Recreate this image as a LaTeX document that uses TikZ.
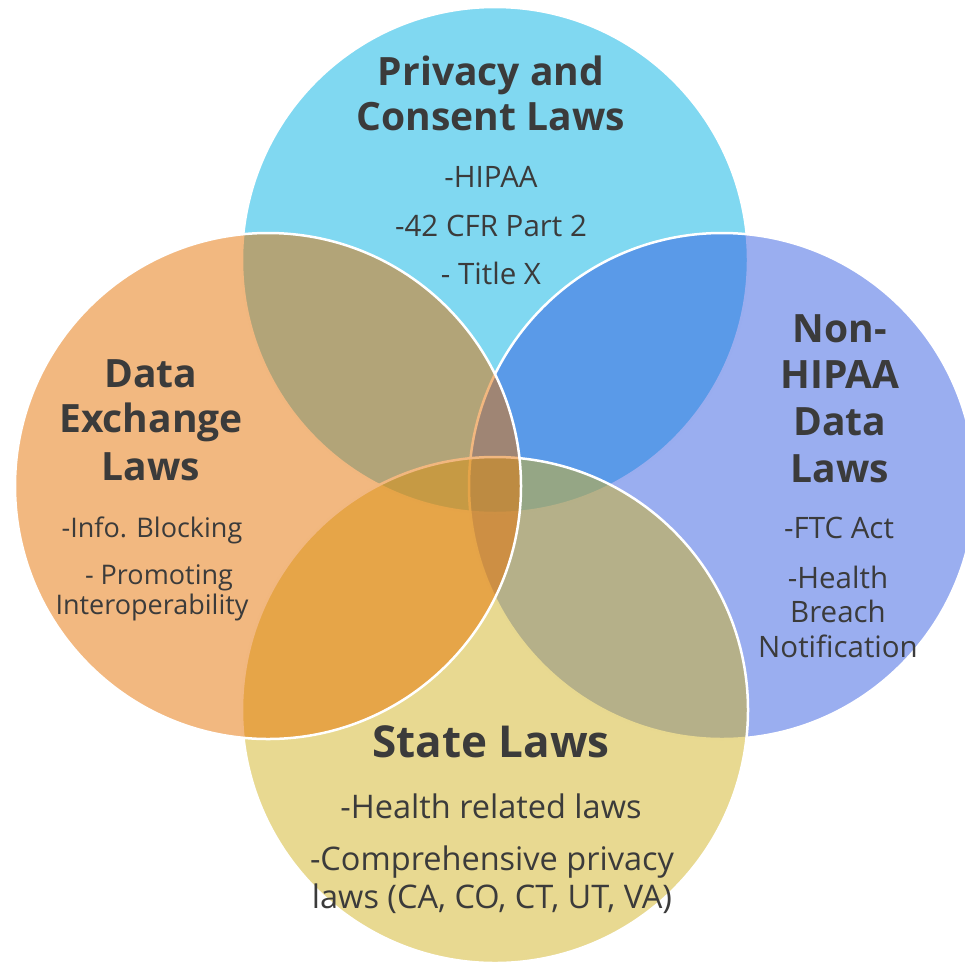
\documentclass[tikz,border=0pt]{standalone}
\usepackage{fontspec}
\setmainfont{Open Sans}
\definecolor{txt}{HTML}{3B3B3B}
\definecolor{cTop}{HTML}{80D8F1}
\definecolor{cRight}{RGB}{53,93,225}
\definecolor{cBottom}{RGB}{209,179,35}
\definecolor{cLeft}{RGB}{229,113,1}
\begin{document}
\begin{tikzpicture}[x=1pt,y=-1pt,
  circ/.style={draw=white, line width=2.5pt, fill opacity=0.5, draw opacity=1},
  head/.style={anchor=base, font=\fontsize{39}{45}\selectfont\bfseries, text=txt, inner sep=0pt},
  bighead/.style={head, font=\fontsize{44}{50}\selectfont\bfseries},
  body/.style={anchor=base, font=\fontsize{29.5}{35}\selectfont, text=txt, inner sep=0pt},
  smallbody/.style={body, font=\fontsize{27}{32}\selectfont},
  bigbody/.style={body, font=\fontsize{32.5}{38}\selectfont}]
\useasboundingbox (0,0) rectangle (965,964);
\clip (0,0) rectangle (965,964);
% circles (drawn in order: top, right, bottom, left)
\path[circ, fill=cTop, fill opacity=1] (495,260) circle[radius=253];
\path[circ, fill=cRight] (722,486) circle[radius=253];
\path[circ, fill=cBottom] (495,710) circle[radius=253];
\path[circ, fill=cLeft] (268,486) circle[radius=253];
% top texts
\node[head] (t1) at (491,85) {Privacy and};
\node[head] (t2) at (491,130) {Consent Laws};
\node[body] (t3) at (491,187) {-HIPAA};
\node[body] (t4) at (491,236) {-42 CFR Part 2};
\node[body] (t5) at (491,284) {- Title X};
% left texts
\node[head] (l1) at (151,387) {Data};
\node[head] (l2) at (151,432) {Exchange};
\node[head] (l3) at (151,480) {Laws};
\node[smallbody] (l4) at (152,537) {-Info. Blocking};
\node[smallbody] (l5) at (159,584) {- Promoting};
\node[smallbody] (l6) at (152,614) {Interoperability};
% right texts
\node[head] (r1) at (840,342) {Non-};
\node[head] (r2) at (840,388) {HIPAA};
\node[head] (r3) at (840,435) {Data};
\node[head] (r4) at (840,482) {Laws};
\node[body] (r5) at (839,538) {-FTC Act};
\node[body] (r6) at (838,588) {-Health};
\node[body] (r7) at (838,622) {Breach};
\node[body] (r8) at (838,657) {Notification};
% bottom texts
\node[bighead] (b1) at (491,757) {State Laws};
\node[bigbody] (b2) at (491,818) {-Health related laws};
\node[bigbody] (b3) at (492,870) {-Comprehensive privacy};
\node[bigbody] (b4) at (492,908) {laws (CA, CO, CT, UT, VA)};
\end{tikzpicture}
\end{document}
